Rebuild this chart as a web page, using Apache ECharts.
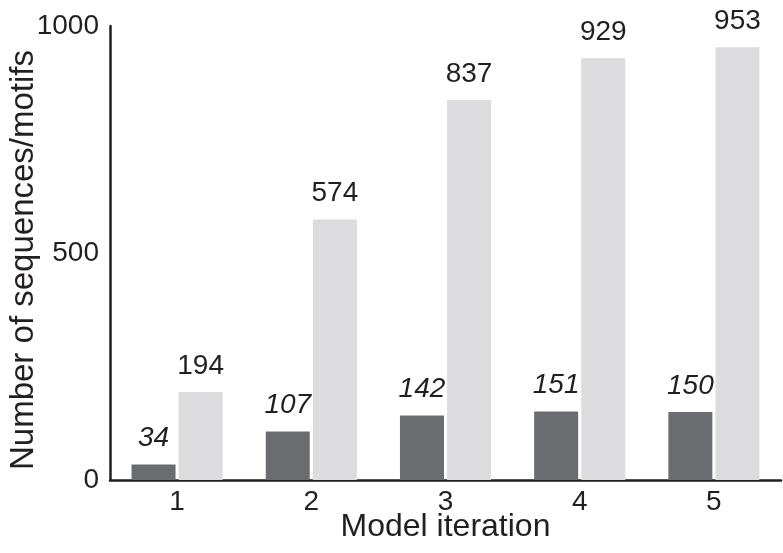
<!DOCTYPE html>
<html>
<head>
<meta charset="utf-8">
<script src="https://cdn.jsdelivr.net/npm/echarts@6/dist/echarts.min.js"></script>
<style>
html,body{margin:0;padding:0;background:#fff;}
#chart{width:783px;height:553px;}
</style>
</head>
<body>
<div id="chart"></div>
<script>
var categories = ['1', '2', '3', '4', '5'];
var darkValues = [34, 107, 142, 151, 150];
var lightValues = [194, 574, 837, 929, 953];
var yTicks = [0, 500, 1000];

var FONT = '"Liberation Sans", Arial, Helvetica, sans-serif';
var TEXT = '#231f20';

var chart = echarts.init(document.getElementById('chart'));
chart.setOption({
  animation: false,
  backgroundColor: '#ffffff',
  grid: {left: 110, right: 2, top: 26, bottom: 73, containLabel: false, outerBoundsMode: 'none'},
  xAxis: {
    type: 'category',
    data: categories,
    name: 'Model iteration',
    nameLocation: 'middle',
    nameGap: 31,
    nameMoveOverlap: false,
    nameTextStyle: {fontFamily: FONT, fontSize: 32, color: TEXT},
    axisLine: {lineStyle: {color: TEXT, width: 2.5}},
    axisTick: {show: false},
    axisLabel: {fontFamily: FONT, fontSize: 28, color: TEXT, margin: 8}
  },
  yAxis: {
    type: 'value',
    min: 0,
    max: 1000,
    interval: 500,
    name: 'Number of sequences/motifs',
    nameLocation: 'middle',
    nameGap: 70,
    nameMoveOverlap: false,
    nameTextStyle: {fontFamily: FONT, fontSize: 33, color: TEXT, padding: [0, 14, 0, 0]},
    axisLine: {show: true, lineStyle: {color: TEXT, width: 2.5}},
    axisTick: {show: false},
    splitLine: {show: false},
    axisLabel: {
      fontFamily: FONT, fontSize: 28, color: TEXT, margin: 11,
      formatter: function (v) { return yTicks.indexOf(v) >= 0 ? String(v) : ''; }
    }
  },
  series: [
    {
      type: 'bar',
      data: darkValues,
      barWidth: 44,
      barGap: '7%',
      itemStyle: {color: '#6b6c70'},
      label: {show: true, position: 'top', distance: 12, fontFamily: FONT, fontSize: 28, fontStyle: 'italic', color: TEXT}
    },
    {
      type: 'bar',
      data: lightValues,
      barWidth: 44,
      itemStyle: {color: '#dcdcde'},
      label: {show: true, position: 'top', distance: 12, fontFamily: FONT, fontSize: 28, color: TEXT}
    }
  ]
});
</script>
</body>
</html>
